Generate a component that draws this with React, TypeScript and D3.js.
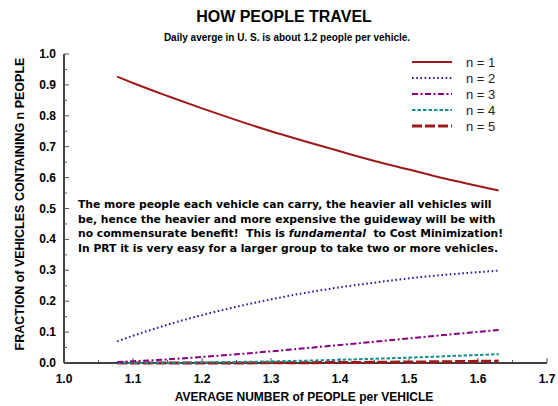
import React from "react";
import * as d3 from "d3";

const avgPeople = [1.077, 1.1, 1.15, 1.2, 1.25, 1.3, 1.35, 1.4, 1.45, 1.5, 1.55, 1.6, 1.63];
const n1 = [0.927, 0.906, 0.864, 0.824, 0.786, 0.750, 0.717, 0.685, 0.654, 0.626, 0.598, 0.573, 0.558];
const n2 = [0.070, 0.088, 0.124, 0.155, 0.182, 0.206, 0.227, 0.245, 0.260, 0.274, 0.285, 0.294, 0.299];
const n3 = [0.0035, 0.0057, 0.0118, 0.0195, 0.0282, 0.0378, 0.0479, 0.0584, 0.0690, 0.0797, 0.0904, 0.1007, 0.1069];
const n4 = [0.0001, 0.0003, 0.0008, 0.0018, 0.0033, 0.0052, 0.0076, 0.0105, 0.0137, 0.0174, 0.0215, 0.0259, 0.0286];
const n5 = [0, 0, 0.0001, 0.0001, 0.0003, 0.0006, 0.0010, 0.0015, 0.0022, 0.0031, 0.0041, 0.0053, 0.0061];
const seriesNames = ["n = 1", "n = 2", "n = 3", "n = 4", "n = 5"];
const xTicks = [1.0, 1.1, 1.2, 1.3, 1.4, 1.5, 1.6, 1.7];
const yTicks = [0, 0.1, 0.2, 0.3, 0.4, 0.5, 0.6, 0.7, 0.8, 0.9, 1.0];
const noteLines = [
  "The more people each vehicle can carry, the heavier all vehicles will",
  "be, hence the heavier and more expensive the guideway will be with",
  "no commensurate benefit!  This is |fundamental|  to Cost Minimization!",
  "In PRT it is very easy for a larger group to take two or more vehicles.",
];

const styles = [
  { color: "#9e1a1a", width: 2, dash: "" },
  { color: "#1f1f9e", width: 2, dash: "1.6,2.6" },
  { color: "#880088", width: 2, dash: "6,2.5,2,2.5" },
  { color: "#119090", width: 2, dash: "3.5,2" },
  { color: "#9e1a1a", width: 3, dash: "10,3" },
];

export default function App() {
  const W = 558, H = 406;
  const x = d3.scaleLinear().domain([1.0, 1.7]).range([64, 547]);
  const y = d3.scaleLinear().domain([0, 1]).range([363, 54]);
  const all = [n1, n2, n3, n4, n5];
  const line = d3.line<number>()
    .x((_, i) => x(avgPeople[i]))
    .y((d) => y(d))
    .curve(d3.curveMonotoneX);
  const minorX = d3.range(1.0, 1.7001, 0.05);
  const minorY = d3.range(0, 1.0001, 0.05);
  const font = "'Liberation Sans', Arial, sans-serif";
  return (
    <svg width={W} height={H} style={{ position: "absolute", left: 0, top: 0 }} fontFamily={font}>
      <rect width={W} height={H} fill="#fff" />
      <text x={284} y={22} textAnchor="middle" fontWeight="bold" fontSize={16}>HOW PEOPLE TRAVEL</text>
      <text x={287} y={41} textAnchor="middle" fontWeight="bold" fontSize={10}>Daily averge in U. S. is about 1.2 people per vehicle.</text>
      {/* axes */}
      <line x1={x(1)} x2={x(1.7)} y1={y(0)} y2={y(0)} stroke="#000" strokeWidth={1.5} />
      <line x1={x(1)} x2={x(1)} y1={y(0)} y2={y(1)} stroke="#000" strokeWidth={1.5} />
      {minorY.map((v, i) => (
        <line key={"my" + i} x1={x(1)} x2={x(1) + (i % 2 === 0 ? 5 : 3)} y1={y(v)} y2={y(v)} stroke="#555" strokeWidth={1} />
      ))}
      {minorX.map((v, i) => (
        <line key={"mx" + i} x1={x(v)} x2={x(v)} y1={y(0)} y2={y(0) - (i % 2 === 0 ? 5 : 3)} stroke="#555" strokeWidth={1} />
      ))}
      {yTicks.map((v) => (
        <text key={"yt" + v} x={56} y={y(v) + 4} textAnchor="end" fontWeight="bold" fontSize={12}>{d3.format(".1f")(v)}</text>
      ))}
      {xTicks.map((v) => (
        <text key={"xt" + v} x={x(v)} y={383} textAnchor="middle" fontWeight="bold" fontSize={12}>{d3.format(".1f")(v)}</text>
      ))}
      <text x={304} y={401} textAnchor="middle" fontWeight="bold" fontSize={12}>AVERAGE NUMBER of PEOPLE per VEHICLE</text>
      <text transform={`translate(24,${204}) rotate(-90)`} textAnchor="middle" fontWeight="bold" fontSize={12.5}>FRACTION of VEHICLES CONTAINING n PEOPLE</text>
      {/* series, n=5 drawn first */}
      {all.map((s, i) => i).reverse().map((i) => (
        <path key={"s" + i} d={line(all[i]) || ""} fill="none" stroke={styles[i].color} strokeWidth={styles[i].width} strokeDasharray={styles[i].dash} />
      ))}
      {/* legend */}
      {seriesNames.map((nm, i) => (
        <g key={"lg" + i} transform={`translate(0,${62 + i * 16})`}>
          <line x1={412} x2={452} y1={0} y2={0} stroke={styles[i].color} strokeWidth={styles[i].width} strokeDasharray={styles[i].dash} />
          <text x={466} y={5} fontSize={13} fill="#222">{nm}</text>
        </g>
      ))}
      {/* note */}
      {noteLines.map((ln, i) => {
        const parts = ln.split("|");
        return (
          <text key={"n" + i} x={78} y={208 + i * 14.5} fontFamily="'DejaVu Sans', Verdana, sans-serif" fontWeight="bold" fontSize={10.75} fill="#000" style={{ whiteSpace: "pre" }}>
            {parts.map((p, j) => (
              <tspan key={j} fontStyle={j % 2 === 1 ? "italic" : "normal"}>{p}</tspan>
            ))}
          </text>
        );
      })}
    </svg>
  );
}
